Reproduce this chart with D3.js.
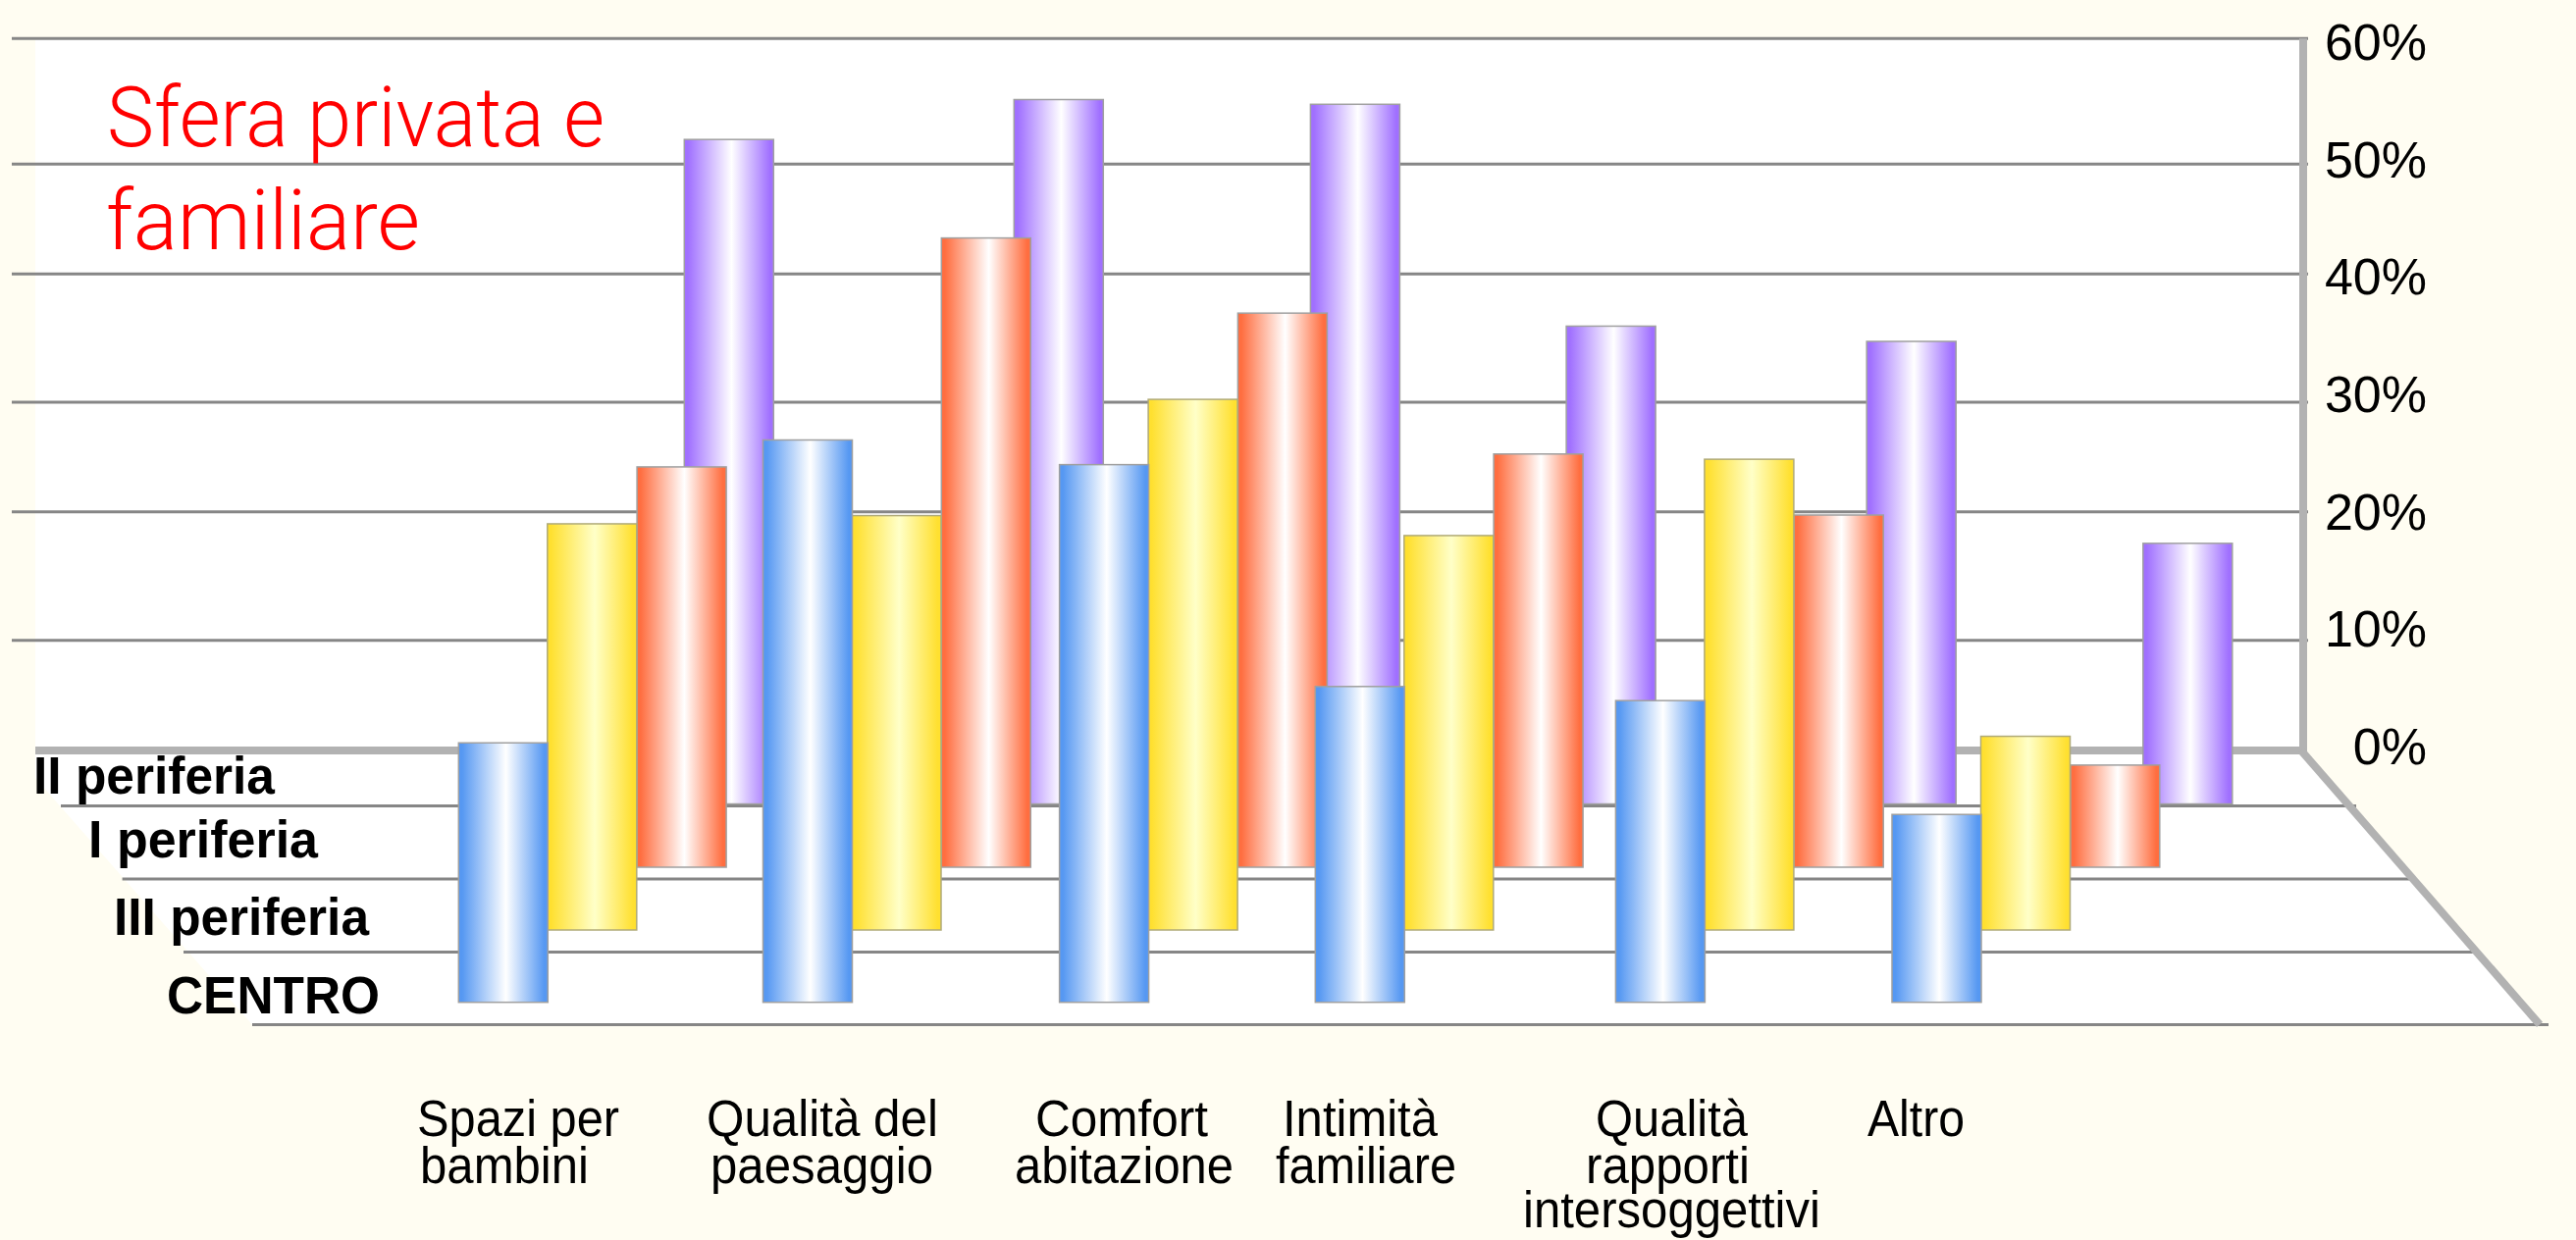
<!DOCTYPE html>
<html>
<head>
<meta charset="utf-8">
<script src="https://cdn.jsdelivr.net/npm/d3@7"></script>
<style>
html, body { margin: 0; padding: 0; background: #fffdf2; }
svg { display: block; }
text { font-family: "Liberation Sans", Arial, sans-serif; fill: #000; }
</style>
</head>
<body>
<div id="viz"></div>
<script>
// values
let categories = ["Spazi per", "Qualità del", "Comfort", "Intimità", "Qualità", "Altro"];
let rows = ["CENTRO", "III periferia", "I periferia", "II periferia"];
let centro = [22.1, 47.9, 45.8, 26.9, 25.7, 16.0];
let periferia3 = [34.6, 35.3, 45.2, 33.6, 40.1, 16.5];
let periferia1 = [34.1, 53.6, 47.2, 35.2, 30.0, 8.7];
let periferia2 = [56.6, 60.0, 59.6, 40.7, 39.4, 22.2];
let tickValues = [0, 10, 20, 30, 40, 50, 60];

let width = 2625, height = 1264;
let barWidth = 91;
let frameWidth = 8;

let series = [
  {name: "II periferia", values: periferia2, edge: "#a070ff", mid: "#ffffff", line: "#a0a0a0"},
  {name: "I periferia", values: periferia1, edge: "#ff6e40", mid: "#ffffff", line: "#a0a0a0"},
  {name: "III periferia", values: periferia3, edge: "#ffe030", mid: "#ffffc8", line: "#b0aa78"},
  {name: "CENTRO", values: centro, edge: "#5698f2", mid: "#ffffff", line: "#a0a0a0"},
];

// the axis labels are evenly spaced, the wall lines are not quite
let y = d3.scaleLinear().domain([0, 60]).range([762, 44]);
let gridY = d3.scaleLinear().domain(tickValues).range([765, 652.7, 521.7, 410, 279.3, 167.3, 39.3]);

// group positions are irregular in the original
let groupX = d3.scaleOrdinal().domain(categories).range([467.3, 777.5, 1079.6, 1340.3, 1646.4, 1928]);
let rowOffset = d3.scaleOrdinal().domain(rows).range([0, 90.5, 181.8, 255.8]);
let rowBase = d3.scaleOrdinal().domain(rows).range([1021.7, 948, 884, 819.5]);
let rowLineY = d3.scaleOrdinal().domain(rows).range([1044.4, 970.5, 896, 821.5]);
let rowLineLeft = d3.scaleOrdinal().domain(rows).range([257, 187, 124.6, 62]);
let rowLineRight = d3.scaleOrdinal().domain(rows).range([2597, 2520, 2455, 2401]);

// first back bar sits closer to its group than the others
let barX = function(s, j) {
  let x = groupX(categories[j]) + rowOffset(s.name);
  if (s.name == "II periferia" && j == 0) x = x - 25.8;
  return x;
};

let svg = d3.select("#viz").append("svg")
  .attr("width", width)
  .attr("height", height);

let defs = svg.append("defs");
series.forEach(function(s, i) {
  let g = defs.append("linearGradient").attr("id", "bar" + i);
  [[0, s.edge], [0.04, s.edge], [0.53, s.mid], [0.96, s.edge], [1, s.edge]].forEach(function(d) {
    g.append("stop").attr("offset", d[0]).attr("stop-color", d[1]);
  });
});

// white wall and floor
svg.append("path")
  .attr("d", d3.line()([
    [36, gridY(60)], [2347, gridY(60)], [2347, gridY(0)], [2588, rowLineY("CENTRO")],
    [rowLineLeft("CENTRO"), rowLineY("CENTRO")], [36, 793],
  ]) + "Z")
  .attr("fill", "#ffffff");

// wall lines
svg.selectAll(".grid")
  .data(tickValues.filter(function(d) { return d > 0; }))
  .enter()
  .append("line")
  .attr("class", "grid")
  .attr("x1", 12)
  .attr("x2", 2352)
  .attr("y1", function(d) { return gridY(d); })
  .attr("y2", function(d) { return gridY(d); })
  .attr("stroke", "#868686")
  .attr("stroke-width", 3);

// floor lines
svg.selectAll(".rowLine")
  .data(rows)
  .enter()
  .append("line")
  .attr("class", "rowLine")
  .attr("x1", function(d) { return rowLineLeft(d); })
  .attr("x2", function(d) { return rowLineRight(d); })
  .attr("y1", function(d) { return rowLineY(d); })
  .attr("y2", function(d) { return rowLineY(d); })
  .attr("stroke", "#868686")
  .attr("stroke-width", 3);

// thick frame
svg.append("path")
  .attr("d", d3.line()([
    [36, gridY(0)], [2347, gridY(0)], [2347, gridY(60)],
  ]))
  .attr("fill", "none")
  .attr("stroke", "#b2b2b2")
  .attr("stroke-width", frameWidth);
svg.append("line")
  .attr("x1", 2345)
  .attr("y1", gridY(0))
  .attr("x2", 2588)
  .attr("y2", rowLineY("CENTRO"))
  .attr("stroke", "#b2b2b2")
  .attr("stroke-width", frameWidth);

// bars, back row first
series.forEach(function(s, i) {
  svg.selectAll(".bar" + i)
    .data(s.values)
    .enter()
    .append("rect")
    .attr("class", "bar" + i)
    .attr("x", function(d, j) { return barX(s, j); })
    .attr("y", function(d) { return rowBase(s.name) - (y(0) - y(d)); })
    .attr("width", barWidth)
    .attr("height", function(d) { return y(0) - y(d); })
    .attr("fill", "url(#bar" + i + ")")
    .attr("stroke", s.line)
    .attr("stroke-width", 1.5);
});

// percent axis
let axis = d3.axisLeft(y)
  .tickValues(tickValues)
  .tickFormat(function(d) { return d + "%"; })
  .tickSize(0)
  .tickPadding(0);
let axisG = svg.append("g").attr("transform", "translate(2473,0)").call(axis);
axisG.select(".domain").remove();
axisG.selectAll("text").style("font-size", "52px").style("font-family", '"Liberation Sans", Arial, sans-serif');

// row names
let rowLabels = [
  {text: "II periferia", x: 34, y: 808.6, w: 246},
  {text: "I periferia", x: 90, y: 873.7, w: 234},
  {text: "III periferia", x: 116, y: 952.5, w: 260},
  {text: "CENTRO", x: 170, y: 1032.7, w: 217},
];
svg.selectAll(".rowLabel")
  .data(rowLabels)
  .enter()
  .append("text")
  .attr("class", "rowLabel")
  .attr("x", function(d) { return d.x; })
  .attr("y", function(d) { return d.y; })
  .attr("textLength", function(d) { return d.w; })
  .attr("lengthAdjust", "spacingAndGlyphs")
  .style("font-size", "53px")
  .style("font-weight", "bold")
  .text(function(d) { return d.text; });

// category names
let catLabels = [
  {text: "Spazi per", x: 425, y: 1157.7, w: 206},
  {text: "bambini", x: 428, y: 1206, w: 172},
  {text: "Qualità del", x: 720, y: 1157.7, w: 236},
  {text: "paesaggio", x: 724, y: 1206, w: 227},
  {text: "Comfort", x: 1055, y: 1157.7, w: 176},
  {text: "abitazione", x: 1034, y: 1206, w: 223},
  {text: "Intimità", x: 1307, y: 1157.7, w: 158},
  {text: "familiare", x: 1300, y: 1206, w: 184},
  {text: "Qualità", x: 1626, y: 1157.7, w: 155},
  {text: "rapporti", x: 1616, y: 1206, w: 167},
  {text: "intersoggettivi", x: 1552, y: 1251, w: 303},
  {text: "Altro", x: 1903, y: 1157.7, w: 99},
];
svg.selectAll(".catLabel")
  .data(catLabels)
  .enter()
  .append("text")
  .attr("class", "catLabel")
  .attr("x", function(d) { return d.x; })
  .attr("y", function(d) { return d.y; })
  .attr("textLength", function(d) { return d.w; })
  .attr("lengthAdjust", "spacingAndGlyphs")
  .style("font-size", "51px")
  .text(function(d) { return d.text; });

// title
let titleLines = [
  {text: "Sfera privata e", x: 109, y: 149, w: 507},
  {text: "familiare", x: 108, y: 254, w: 320},
];
svg.selectAll(".title")
  .data(titleLines)
  .enter()
  .append("text")
  .attr("class", "title")
  .attr("x", function(d) { return d.x; })
  .attr("y", function(d) { return d.y; })
  .attr("textLength", function(d) { return d.w; })
  .attr("lengthAdjust", "spacingAndGlyphs")
  .style("font-size", "86px")
  .style("font-family", 'Roboto, "Liberation Sans", sans-serif')
  .style("font-weight", 300)
  .style("fill", "#ff0000")
  .text(function(d) { return d.text; });
</script>
</body>
</html>
